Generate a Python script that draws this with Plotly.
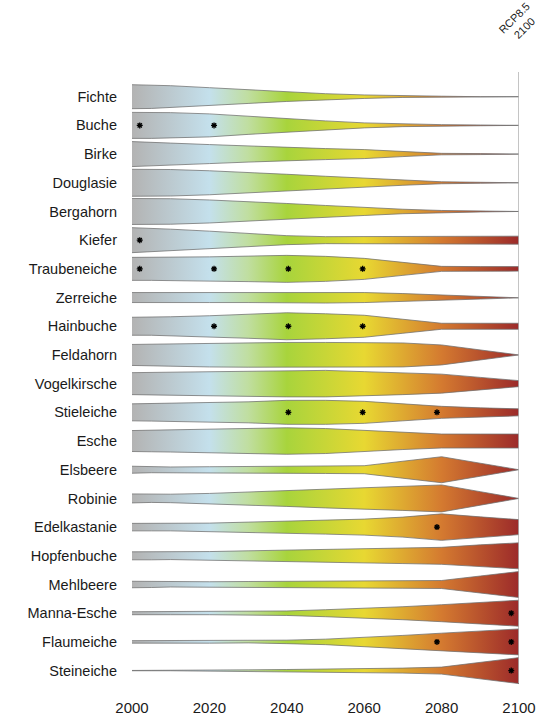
import plotly.graph_objects as go

species = ["Fichte", "Buche", "Birke", "Douglasie", "Bergahorn", "Kiefer",
           "Traubeneiche", "Zerreiche", "Hainbuche", "Feldahorn", "Vogelkirsche",
           "Stieleiche", "Esche", "Elsbeere", "Robinie", "Edelkastanie",
           "Hopfenbuche", "Mehlbeere", "Manna-Esche", "Flaumeiche", "Steineiche"]

years = [2000, 2005, 2010, 2020, 2030, 2040, 2050, 2060, 2070, 2080, 2090, 2100]

fichte = [24, 23.5, 22, 18, 13.5, 9.5, 6, 3.5, 1.5, 1, 0, 0]
buche = [26, 26, 25.5, 23, 18, 13, 9, 5, 2.5, 1.5, 0.8, 0]
birke = [25, 24, 22, 19, 16, 13, 11, 9, 5, 1.5, 1, 0]
douglasie = [27, 27, 26.5, 24, 21, 17, 13, 9, 5, 2, 1, 0]
bergahorn = [26, 26, 25.5, 23, 20, 16, 12, 8, 4.5, 2, 1, 0]
kiefer = [25, 24, 22, 18, 13, 9, 7, 7, 7, 7, 7.5, 8]
traubeneiche = [23, 23, 23, 24, 25.5, 27, 25, 21, 13, 5, 4.5, 4.5]
zerreiche = [10, 10, 10, 10, 10, 10, 11, 10, 8, 5.5, 3, 0.5]
hainbuche = [18, 18, 19, 21, 24, 27, 25, 22, 14, 6, 6, 6]
feldahorn = [21, 21.5, 22, 24, 24.5, 25, 25, 24.5, 24, 20, 10, 0]
vogelkirsche = [22, 22.5, 23, 24.5, 25.5, 26.5, 26.5, 24, 22, 19, 12.5, 6]
stieleiche = [17, 17.5, 18, 19, 21, 24, 24, 22, 17, 12, 9, 7]
esche = [21, 21.5, 22, 23, 24.5, 26.5, 25, 21, 17, 14, 14, 14]
elsbeere = [7, 6, 5.5, 6, 6.5, 7, 7.5, 8, 17, 26, 13, 0]
robinie = [9, 8, 8.5, 10, 13, 16, 19, 22, 24, 27, 13.5, 0]
edelkastanie = [7.5, 7.5, 7.5, 8, 10, 12, 14, 16, 20, 26.5, 20.5, 15]
hopfenbuche = [8, 8, 7.5, 8.5, 10, 11.5, 13, 14, 15.5, 17, 22, 26]
mehlbeere = [6.5, 6, 5, 5.5, 6, 6.5, 7, 7, 7.5, 8, 17, 26]
manna_esche = [3, 3, 3, 3, 3, 4.5, 7, 9.5, 13, 17, 21, 26]
flaumeiche = [2.5, 2.5, 2.5, 2.5, 2, 3.5, 5.5, 9, 13, 17.5, 22, 26]
steineiche = [0.3, 0.3, 0.3, 0.3, 1.5, 2.2, 3, 4, 5, 7, 16.5, 26]

values = [fichte, buche, birke, douglasie, bergahorn, kiefer, traubeneiche,
          zerreiche, hainbuche, feldahorn, vogelkirsche, stieleiche, esche,
          elsbeere, robinie, edelkastanie, hopfenbuche, mehlbeere, manna_esche,
          flaumeiche, steineiche]

# significance markers (species, period)
star_species = ["Buche", "Buche", "Kiefer",
                "Traubeneiche", "Traubeneiche", "Traubeneiche", "Traubeneiche",
                "Hainbuche", "Hainbuche", "Hainbuche",
                "Stieleiche", "Stieleiche", "Stieleiche",
                "Edelkastanie", "Manna-Esche", "Flaumeiche", "Flaumeiche",
                "Steineiche"]
star_years = [2000, 2020, 2000,
              2000, 2020, 2040, 2060,
              2020, 2040, 2060,
              2040, 2060, 2080,
              2080, 2100, 2080, 2100,
              2100]

x_ticks = [2000, 2020, 2040, 2060, 2080, 2100]

SCALE = 28.7  # value units per row spacing
colorscale = [[0.0, "#b3b3b3"], [0.2, "#c4e0ec"], [0.3, "#c0dea0"],
              [0.4, "#a8d43c"], [0.6, "#e8d832"], [0.8, "#d47a30"],
              [1.0, "#9c2a2a"]]

fig = go.Figure()
for i, (name, vals) in enumerate(zip(species, values)):
    upper = [i - v / SCALE / 2 for v in vals]
    lower = [i + v / SCALE / 2 for v in vals]
    fig.add_trace(go.Scatter(
        x=years + years[::-1],
        y=upper + lower[::-1],
        mode="lines",
        fill="toself",
        fillgradient=dict(type="horizontal", colorscale=colorscale,
                          start=2000, stop=2100),
        line=dict(color="rgba(110,110,110,0.75)", width=1),
        hoverinfo="skip",
        showlegend=False,
    ))

sx = [2002 + (yr - 2000) * 0.96 for yr in star_years]
sy = [species.index(s) for s in star_species]
fig.add_trace(go.Scatter(
    x=sx, y=sy, mode="markers",
    marker=dict(symbol="asterisk-open", size=5, color="black",
                line=dict(color="black", width=1.3)),
    hoverinfo="skip", showlegend=False,
))

fig.add_shape(type="line", xref="x", yref="y", x0=2100, x1=2100,
              y0=-0.86, y1=20.43, line=dict(color="#b0b0b0", width=1.5))

fig.add_annotation(text="RCP8.5<br>2100", x=2100, xref="x", y=1.075, yref="paper",
                   showarrow=False, textangle=-45, xanchor="center", yanchor="middle",
                   font=dict(family="Arial, Liberation Sans", size=11, color="#222"))

fig.update_layout(
    width=539, height=719,
    margin=dict(l=132, r=20, t=70, b=22),
    plot_bgcolor="white", paper_bgcolor="white",
    font=dict(family="Arial, Liberation Sans", size=14, color="#1a1a1a"),
    xaxis=dict(range=[2000, 2100], tickvals=x_ticks, showgrid=False, zeroline=False,
               showline=False, ticks="", tickfont=dict(size=15), automargin=False),
    yaxis=dict(range=[20.92, -0.93], tickvals=list(range(len(species))),
               ticktext=species, showgrid=False, zeroline=False, showline=False,
               ticks="", ticklabelstandoff=14, tickfont=dict(size=14.5), automargin=False),
)

fig.write_html("out.html", config={"displayModeBar": False},
               post_script="document.body.style.margin='0px';")
